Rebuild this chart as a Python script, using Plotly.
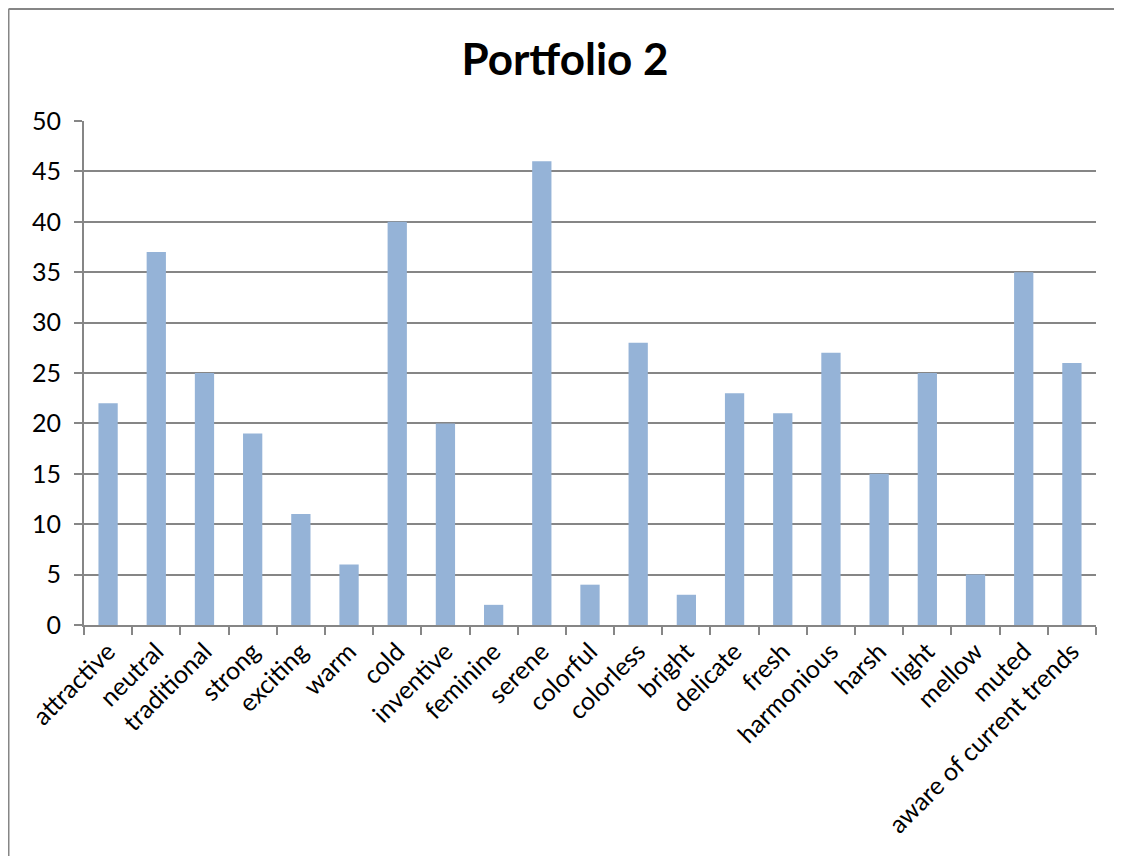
import plotly.graph_objects as go

# adjectives rated for portfolio 2
categories = ['attractive', 'neutral', 'traditional', 'strong', 'exciting', 'warm', 'cold',
              'inventive', 'feminine', 'serene', 'colorful', 'colorless', 'bright', 'delicate',
              'fresh', 'harmonious', 'harsh', 'light', 'mellow', 'muted', 'aware of current trends']
counts = [22, 37, 25, 19, 11, 6, 40, 20, 2, 46, 4, 28, 3, 23, 21, 27, 15, 25, 5, 35, 26]
y_ticks = [0, 5, 10, 15, 20, 25, 30, 35, 40, 45, 50]

grey = '#868686'
font = 'Lato, Open Sans, sans-serif'

fig = go.Figure()
fig.add_trace(go.Bar(
    x=categories,
    y=counts,
    marker_color='#95B3D7',
    marker_line_width=0,
))

# outer chart border: only left and top edges are inside the picture
fig.add_shape(type='line', xref='paper', yref='paper',
              x0=-0.0746, x1=-0.0746, y0=-0.6, y1=1.2222,
              line=dict(color=grey, width=2), layer='below')
fig.add_shape(type='line', xref='paper', yref='paper',
              x0=-0.0746, x1=1.06, y0=1.2222, y1=1.2222,
              line=dict(color=grey, width=2), layer='below')

fig.update_layout(
    width=1114, height=848,
    margin=dict(l=76, r=26, t=113, b=231),
    paper_bgcolor='white', plot_bgcolor='white',
    bargap=0.6,
    showlegend=False,
    title=dict(text='<b>Portfolio 2</b>', x=557 / 1114, xref='container', xanchor='center',
               y=1 - 52 / 848, yref='container', yanchor='middle',
               font=dict(family=font, size=44, color='black')),
    font=dict(family=font, size=25, color='black'),
)
fig.update_xaxes(
    type='category', tickangle=-45, tickson='boundaries',
    ticks='outside', ticklen=8, tickcolor=grey, tickwidth=2,
    showline=True, linecolor=grey, linewidth=2, showgrid=False,
    tickfont=dict(size=25),
)
fig.update_yaxes(
    range=[0, 50], tickvals=y_ticks,
    ticks='outside', ticklen=8, tickcolor=grey, tickwidth=2,
    showline=True, linecolor=grey, linewidth=2,
    showgrid=True, gridcolor=grey, gridwidth=1.5, zeroline=False,
    tickfont=dict(size=25), ticklabelstandoff=8,
)

fig.write_html('out.html')
